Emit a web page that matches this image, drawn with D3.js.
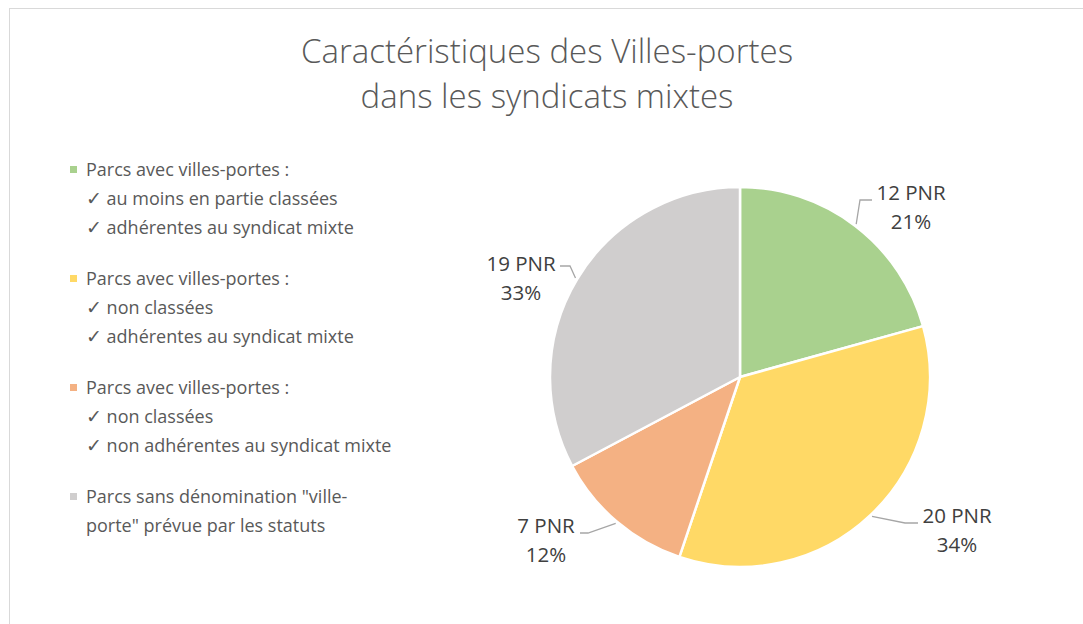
<!DOCTYPE html>
<html lang="fr">
<head>
<meta charset="UTF-8">
<title>Caractéristiques des Villes-portes</title>
<script src="https://d3js.org/d3.v7.min.js"></script>
<style>
    body { margin: 0; background: #fff; }
    svg { display: block; font-family: "Open Sans", "DejaVu Sans", sans-serif; }
    .title { font-size: 33px; font-weight: 300; fill: #595959; }
    .legend text { font-size: 18px; fill: #595959; }
    .legend .check { font-size: 19px; }
    .label { font-size: 20.5px; fill: #404040; }
    .leader { fill: none; stroke: #a6a6a6; stroke-width: 1.3px; }
</style>
</head>
<body>
<svg width="1083" height="624"></svg>
<script>
    // données
    const titleLines = ['Caractéristiques des Villes-portes', 'dans les syndicats mixtes'];
    const legendLabels = [
        ['Parcs avec villes-portes :', '✓ au moins en partie classées', '✓ adhérentes au syndicat mixte'],
        ['Parcs avec villes-portes :', '✓ non classées', '✓ adhérentes au syndicat mixte'],
        ['Parcs avec villes-portes :', '✓ non classées', '✓ non adhérentes au syndicat mixte'],
        ['Parcs sans dénomination "ville-', 'porte" prévue par les statuts']
    ];
    const counts = [12, 20, 7, 19];
    const colors = ['#a9d18e', '#ffd966', '#f4b183', '#d0cece'];

    // placement des étiquettes (centre x, ligne de base, coude, fin du trait)
    const labelLayout = [
        { x: 911, y: 200, ex: 860, ey: 200, hx: 872 },
        { x: 957, y: 523, ex: 905, ey: 523, hx: 918 },
        { x: 546, y: 533, ex: 588, ey: 533, hx: 580 },
        { x: 521, y: 271, ex: 570, ey: 266, hx: 560 }
    ];

    const svg = d3.select('svg');
    const cx = 740, cy = 377, radius = 190;
    const total = d3.sum(counts);

    // cadre
    svg.append('rect')
        .attr('x', 9.5).attr('y', 8.5)
        .attr('width', 1100).attr('height', 700)
        .attr('fill', 'none')
        .attr('stroke', '#d9d9d9');

    // titre
    svg.append('text')
        .attr('class', 'title')
        .attr('text-anchor', 'middle')
        .selectAll('tspan')
        .data(titleLines)
        .join('tspan')
        .attr('x', 547)
        .attr('y', (d, i) => 63 + i * 45)
        .text(d => d);

    // légende
    const legend = svg.append('g').attr('class', 'legend');
    let y0 = 176;
    legendLabels.forEach((lines, i) => {
        legend.append('rect')
            .attr('x', 70).attr('y', y0 - 10)
            .attr('width', 7).attr('height', 7)
            .attr('fill', colors[i]);
        lines.forEach((t, j) => {
            const txt = legend.append('text')
                .attr('x', 86)
                .attr('y', y0 + j * 29);
            if (t.startsWith('✓')) {
                txt.append('tspan').attr('class', 'check').text('✓');
                txt.append('tspan').text(t.slice(1));
            } else {
                txt.text(t);
            }
        });
        y0 += lines.length * 29 + 22;
    });

    // camembert
    const pie = d3.pie().sort(null).value(d => d);
    const arcs = pie(counts);
    const arc = d3.arc().innerRadius(0).outerRadius(radius);

    const g = svg.append('g').attr('transform', `translate(${cx},${cy})`);
    g.selectAll('path')
        .data(arcs)
        .join('path')
        .attr('d', arc)
        .attr('fill', (d, i) => colors[i])
        .attr('stroke', '#fff')
        .attr('stroke-width', 2.5)
        .attr('stroke-linejoin', 'round');

    // traits de rappel
    svg.append('g')
        .selectAll('polyline')
        .data(arcs)
        .join('polyline')
        .attr('class', 'leader')
        .attr('points', (d, i) => {
            const a = (d.startAngle + d.endAngle) / 2;
            const px = cx + Math.sin(a) * (radius + 2);
            const py = cy - Math.cos(a) * (radius + 2);
            const L = labelLayout[i];
            return [[px, py], [L.ex, L.ey], [L.hx, L.ey]].map(p => p.join(',')).join(' ');
        });

    // étiquettes
    const labels = svg.append('g')
        .selectAll('text')
        .data(arcs)
        .join('text')
        .attr('class', 'label')
        .attr('text-anchor', 'middle');
    labels.append('tspan')
        .attr('x', (d, i) => labelLayout[i].x)
        .attr('y', (d, i) => labelLayout[i].y)
        .text(d => `${d.value} PNR`);
    labels.append('tspan')
        .attr('x', (d, i) => labelLayout[i].x)
        .attr('y', (d, i) => labelLayout[i].y + 29)
        .text(d => `${Math.round(d.value / total * 100)}%`);
</script>
</body>
</html>
